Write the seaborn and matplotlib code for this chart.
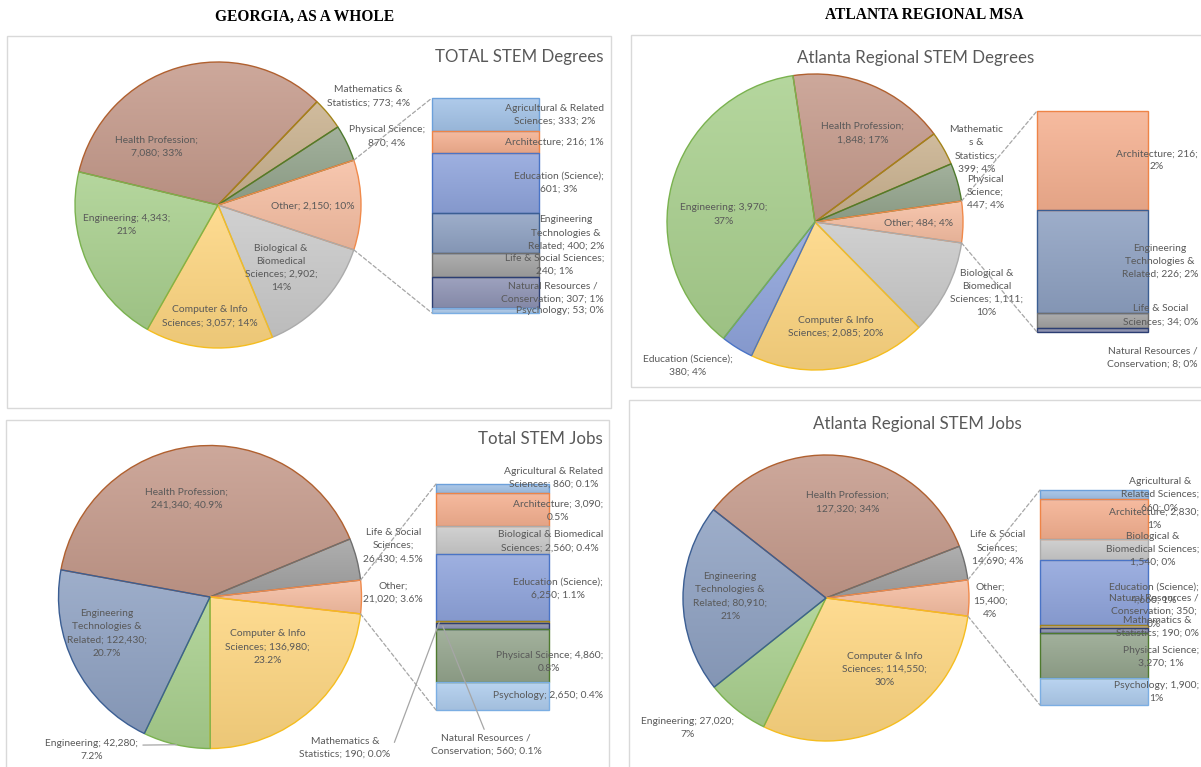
import textwrap
import numpy as np
import matplotlib
matplotlib.use("Agg")
import matplotlib.pyplot as plt
import seaborn as sns
from matplotlib.colors import to_rgb
from matplotlib.patches import ConnectionPatch, Rectangle

sns.set_theme(style="white")
plt.rcParams["font.family"] = ["Lato", "DejaVu Sans"]

# ---------------- data ----------------
# Georgia, as a whole - degrees
ga_deg_cats = ["Health Profession", "Mathematics & Statistics", "Physical Science", "Other",
               "Biological & Biomedical Sciences", "Computer & Info Sciences", "Engineering"]
ga_deg_vals = [7080, 773, 870, 2150, 2902, 3057, 4343]
ga_deg_pcts = ["33%", "4%", "4%", "10%", "14%", "14%", "21%"]
ga_deg_other_cats = ["Agricultural & Related Sciences", "Architecture", "Education (Science)",
                     "Engineering Technologies & Related", "Life & Social Sciences",
                     "Natural Resources / Conservation", "Psychology"]
ga_deg_other_vals = [333, 216, 601, 400, 240, 307, 53]
ga_deg_other_pcts = ["2%", "1%", "3%", "2%", "1%", "1%", "0%"]

# Atlanta regional MSA - degrees
atl_deg_cats = ["Health Profession", "Mathematics & Statistics", "Physical Science", "Other",
                "Biological & Biomedical Sciences", "Computer & Info Sciences",
                "Education (Science)", "Engineering"]
atl_deg_vals = [1848, 399, 447, 484, 1111, 2085, 380, 3970]
atl_deg_pcts = ["17%", "4%", "4%", "4%", "10%", "20%", "4%", "37%"]
atl_deg_other_cats = ["Architecture", "Engineering Technologies & Related",
                      "Life & Social Sciences", "Natural Resources / Conservation"]
atl_deg_other_vals = [216, 226, 34, 8]
atl_deg_other_pcts = ["2%", "2%", "0%", "0%"]

# Georgia, as a whole - jobs
ga_job_cats = ["Health Profession", "Life & Social Sciences", "Other", "Computer & Info Sciences",
               "Engineering", "Engineering Technologies & Related"]
ga_job_vals = [241340, 26430, 21020, 136980, 42280, 122430]
ga_job_pcts = ["40.9%", "4.5%", "3.6%", "23.2%", "7.2%", "20.7%"]
ga_job_other_cats = ["Agricultural & Related Sciences", "Architecture",
                     "Biological & Biomedical Sciences", "Education (Science)",
                     "Mathematics & Statistics", "Natural Resources / Conservation",
                     "Physical Science", "Psychology"]
ga_job_other_vals = [860, 3090, 2560, 6250, 190, 560, 4860, 2650]
ga_job_other_pcts = ["0.1%", "0.5%", "0.4%", "1.1%", "0.0%", "0.1%", "0.8%", "0.4%"]

# Atlanta regional MSA - jobs
atl_job_cats = ["Health Profession", "Life & Social Sciences", "Other", "Computer & Info Sciences",
                "Engineering", "Engineering Technologies & Related"]
atl_job_vals = [127320, 14690, 15400, 114550, 27020, 80910]
atl_job_pcts = ["34%", "4%", "4%", "30%", "7%", "21%"]
atl_job_other_cats = ["Agricultural & Related Sciences", "Architecture",
                      "Biological & Biomedical Sciences", "Education (Science)",
                      "Mathematics & Statistics", "Natural Resources / Conservation",
                      "Physical Science", "Psychology"]
atl_job_other_vals = [660, 2830, 1540, 4660, 190, 350, 3270, 1900]
atl_job_other_pcts = ["0%", "1%", "0%", "1%", "0%", "0%", "1%", "1%"]

headers = ["GEORGIA, AS A WHOLE", "ATLANTA REGIONAL MSA"]
titles = ["TOTAL STEM Degrees", "Atlanta Regional STEM Degrees", "Total STEM Jobs",
          "Atlanta Regional STEM Jobs"]

# ---------------- styling ----------------
FACE = {
    "Health Profession": "#C59A8B",
    "Mathematics & Statistics": "#C9B18E",
    "Physical Science": "#94A58D",
    "Other": "#F6BEA2",
    "Biological & Biomedical Sciences": "#CACACA",
    "Computer & Info Sciences": "#FED680",
    "Engineering": "#A9D08E",
    "Education (Science)": "#8FA4DC",
    "Engineering Technologies & Related": "#8EA1C2",
    "Life & Social Sciences": "#A2A2A2",
    "Agricultural & Related Sciences": "#A3C3E8",
    "Architecture": "#F5B090",
    "Natural Resources / Conservation": "#8E93B4",
    "Psychology": "#AFCDEE",
}
EDGE = {
    "Health Profession": "#B0602F",
    "Mathematics & Statistics": "#A3841A",
    "Physical Science": "#4E7A2E",
    "Other": "#F08A4B",
    "Biological & Biomedical Sciences": "#ABABAB",
    "Computer & Info Sciences": "#F5BD1F",
    "Engineering": "#7AB24F",
    "Education (Science)": "#4A74C6",
    "Engineering Technologies & Related": "#3B5E93",
    "Life & Social Sciences": "#6F6F6F",
    "Agricultural & Related Sciences": "#6CA0DA",
    "Architecture": "#EE8447",
    "Natural Resources / Conservation": "#2C3E73",
    "Psychology": "#7BAEE3",
}
TXT = "#595959"
LAB_FS = 7.4
LSP = 1.6
W, H = 1201, 767

fig = plt.figure(figsize=(W / 100, H / 100), dpi=100)
fig.patch.set_facecolor("white")


def rect(x0, y0, x1, y1):
    return [x0 / W, 1 - y1 / H, (x1 - x0) / W, (y1 - y0) / H]


def wrap(text, spec):
    if isinstance(spec, (list, tuple)):
        lines, i = [], 0
        for n in spec:
            lines.append(text[i:i + n].strip())
            i += n
        lines.append(text[i:].strip())
        return "\n".join(l for l in lines if l)
    return "\n".join(textwrap.wrap(text, width=spec, break_long_words=True))


def shade(c, f):
    c = np.array(to_rgb(c))
    return c + (1 - c) * f if f > 0 else c * (1 + f)


def grad_fill(ax, patch, color, inverted=False):
    """Excel-like vertical gradient (light top, darker bottom) clipped to a patch."""
    ext = patch.get_path().get_extents(patch.get_patch_transform())
    n = 64
    top, bot = shade(color, 0.14), shade(color, -0.07)
    t = np.linspace(0, 1, n)[:, None]
    img = (top[None, :] * (1 - t) + bot[None, :] * t)[:, None, :]
    if inverted:
        extent = (ext.x0, ext.x1, ext.y1, ext.y0)
    else:
        extent = (ext.x0, ext.x1, ext.y0, ext.y1)
    im = ax.imshow(img, extent=extent, origin="upper", aspect="auto",
                   interpolation="bilinear", zorder=patch.get_zorder() - 0.1)
    im.set_clip_path(patch)
    patch.set_facecolor("none")


panels = [
    dict(cats=ga_deg_cats, vals=ga_deg_vals, pcts=ga_deg_pcts,
         ocats=ga_deg_other_cats, ovals=ga_deg_other_vals, opcts=ga_deg_other_pcts,
         box=(7, 36, 611, 408), title=titles[0], title_xy=(603, 62), title_ha="right",
         pie=(218, 205, 143), bar=(432, 98, 539, 313), lab_x=604,
         pie_lab=[(-0.43, 0.41), (1.05, 0.76), (1.18, 0.48), (0.66, -0.01),
                  (0.44, -0.44), (-0.06, -0.78), (-0.64, -0.14)],
         pie_wrap=[18, 20, 17, 30, 16, 20, 19],
         bar_wrap=[22, 30, 20, 16, 23, 21, 30],
         bar_dy=[0, 0, 0, 0, 0, 0, 0]),
    dict(cats=atl_deg_cats, vals=atl_deg_vals, pcts=atl_deg_pcts,
         ocats=atl_deg_other_cats, ovals=atl_deg_other_vals, opcts=atl_deg_other_pcts,
         box=(631, 35, 1210, 387), title=titles[1], title_xy=(916, 63), title_ha="center",
         pie=(815, 222, 148), bar=(1037, 111, 1148, 332), lab_x=1198,
         pie_lab=[(0.32, 0.60), (1.09, 0.49), (1.15, 0.20), (0.70, -0.01),
                  (1.16, -0.48), (0.14, -0.71), (-0.86, -0.97), (-0.62, 0.05)],
         pie_wrap=[18, [10, 4, 12], 8, 30, 16, 20, 20, 19],
         bar_wrap=[18, 16, 16, 19],
         bar_dy=[0, 0, -5, 27]),
    dict(cats=ga_job_cats, vals=ga_job_vals, pcts=ga_job_pcts,
         ocats=ga_job_other_cats, ovals=ga_job_other_vals, opcts=ga_job_other_pcts,
         box=(6, 420, 609, 775), title=titles[2], title_xy=(603, 444), title_ha="right",
         pie=(210, 597, 151.5), bar=(436, 484, 549, 710), lab_x=603,
         pie_lab=[(-0.155, 0.65), (1.21, 0.34), (1.21, 0.03), (0.38, -0.33),
                  (-0.78, -1.01), (-0.68, -0.24)],
         pie_wrap=[18, 13, 12, 18, 20, 17],
         pie_leader={4: (1.0, 0.72)},
         bar_wrap=[22, 20, 23, 20, 21, 23, 24, 30],
         bar_dy=[-10.6, 1, 1, 1, 0, 0, 6.5, 0],
         bar_ext={4: ((345, 748), (1.0, 0.3), 0.03), 5: ((486, 745), (0.5, 1.0), 0.06)}),
    dict(cats=atl_job_cats, vals=atl_job_vals, pcts=atl_job_pcts,
         ocats=atl_job_other_cats, ovals=atl_job_other_vals, opcts=atl_job_other_pcts,
         box=(629, 400, 1210, 775), title=titles[3], title_xy=(917, 429), title_ha="center",
         pie=(826, 598, 143), bar=(1040, 490, 1148, 705), lab_x=1199,
         pie_lab=[(0.15, 0.67), (1.20, 0.35), (1.15, -0.02), (0.41, -0.50),
                  (-0.97, -0.91), (-0.67, 0.01)],
         pie_wrap=[18, 13, 7, 18, 20, 16],
         bar_wrap=[17, 20, 20, 20, 19, 19, 17, 18],
         bar_dy=[0, 0, 0, 1, 0, -19, 1, 0]),
]

# headers
fig.text(305 / W, 1 - 20.5 / H, headers[0], ha="center", va="baseline",
         family=["Liberation Serif", "DejaVu Serif"], weight="bold", fontsize=11.2, color="black")
fig.text(924 / W, 1 - 19.3 / H, headers[1], ha="center", va="baseline",
         family=["Liberation Serif", "DejaVu Serif"], weight="bold", fontsize=11.2, color="black")

for p in panels:
    x0, y0, x1, y1 = p["box"]
    fig.add_artist(Rectangle((x0 / W, 1 - y1 / H), (x1 - x0) / W, (y1 - y0) / H,
                             transform=fig.transFigure, fill=False, ec="#D9D9D9", lw=1.0))
    tx, ty = p["title_xy"]
    fig.text(tx / W, 1 - ty / H, p["title"], ha=p["title_ha"], va="baseline",
             fontsize=12.2, color=TXT)

    # ---- pie ----
    cx, cy, r = p["pie"]
    pax = fig.add_axes(rect(cx - r, cy - r, cx + r, cy + r))
    cats, vals = p["cats"], p["vals"]
    total = float(sum(vals))
    io = cats.index("Other")
    before = sum(vals[:io]) / total
    f_o = vals[io] / total
    start = 360.0 * (before + f_o / 2)
    wedges, _ = pax.pie(vals, colors=[FACE[c] for c in cats], startangle=start,
                        counterclock=False, wedgeprops=dict(linewidth=1.0))
    for w, c in zip(wedges, cats):
        w.set_edgecolor(EDGE[c])
        w.set_clip_on(False)
        grad_fill(pax, w, FACE[c])
    pax.set_xlim(-1, 1)
    pax.set_ylim(-1, 1)
    pax.set_aspect("auto")
    pax.axis("off")
    leaders = p.get("pie_leader", {})
    for i, (c, v, pc) in enumerate(zip(cats, vals, p["pcts"])):
        txt = wrap(f"{c}; {v:,}; {pc}", p["pie_wrap"][i])
        lx, ly = p["pie_lab"][i]
        if i in leaders:
            w = wedges[i]
            mid = np.deg2rad((w.theta1 + w.theta2) / 2)
            pax.annotate(txt, xy=(np.cos(mid), np.sin(mid)), xytext=(lx, ly),
                         ha="center", va="center", fontsize=LAB_FS, color=TXT,
                         linespacing=LSP, multialignment="center", annotation_clip=False,
                         arrowprops=dict(arrowstyle="-", color="#A6A6A6", lw=0.9,
                                         shrinkA=1, shrinkB=0, relpos=leaders[i]))
        else:
            pax.text(lx, ly, txt, ha="center", va="center", fontsize=LAB_FS, color=TXT,
                     linespacing=LSP, multialignment="center")

    # ---- bar of pie ----
    bx0, by0, bx1, by1 = p["bar"]
    bax = fig.add_axes(rect(bx0, by0, bx1, by1))
    ocats, ovals = p["ocats"], p["ovals"]
    otot = float(sum(ovals))
    bottoms = [sum(ovals[:i]) for i in range(len(ovals))]
    bars = bax.bar([0] * len(ovals), ovals, bottom=bottoms, width=1.0, align="edge",
                   color=[FACE[c] for c in ocats], edgecolor=[EDGE[c] for c in ocats],
                   linewidth=1.0, clip_on=False)
    for b, c in zip(bars, ocats):
        grad_fill(bax, b, FACE[c], inverted=True)
    bax.set_xlim(0, 1)
    bax.set_ylim(otot, 0)
    bax.axis("off")
    lab_xf = (p["lab_x"] - bx0) / (bx1 - bx0)
    ext = p.get("bar_ext", {})
    for i, (c, v, pc) in enumerate(zip(ocats, ovals, p["opcts"])):
        txt = wrap(f"{c}; {v:,}; {pc}", p["bar_wrap"][i])
        ymid = bottoms[i] + v / 2
        if i in ext:
            (px, py), rel, xf = ext[i]
            bax.annotate(txt, xy=(xf, ymid), xycoords=bax.get_yaxis_transform(),
                         xytext=(px, H - py), textcoords="figure pixels",
                         ha="center", va="center", fontsize=LAB_FS, color=TXT,
                         linespacing=LSP, multialignment="center", annotation_clip=False,
                         arrowprops=dict(arrowstyle="-", color="#A6A6A6", lw=0.9,
                                         shrinkA=1, shrinkB=0, relpos=rel))
        else:
            bax.annotate(txt, xy=(lab_xf, ymid), xycoords=bax.get_yaxis_transform(),
                         xytext=(0, -p["bar_dy"][i] * 0.72), textcoords="offset points",
                         ha="right", va="center", fontsize=LAB_FS, color=TXT,
                         linespacing=LSP, multialignment="center", annotation_clip=False)

    # ---- connector lines ----
    ang = np.deg2rad(360.0 * f_o / 2)
    for (yy, sgn) in ((1, 1), (0, -1)):
        cp = ConnectionPatch(xyA=(np.cos(ang), sgn * np.sin(ang)), coordsA=pax.transData,
                             xyB=(0, yy), coordsB=bax.transAxes, color="#A6A6A6",
                             lw=0.9, linestyle=(0, (3, 2)))
        fig.add_artist(cp)

fig.savefig("out.png", dpi=100, facecolor="white")
